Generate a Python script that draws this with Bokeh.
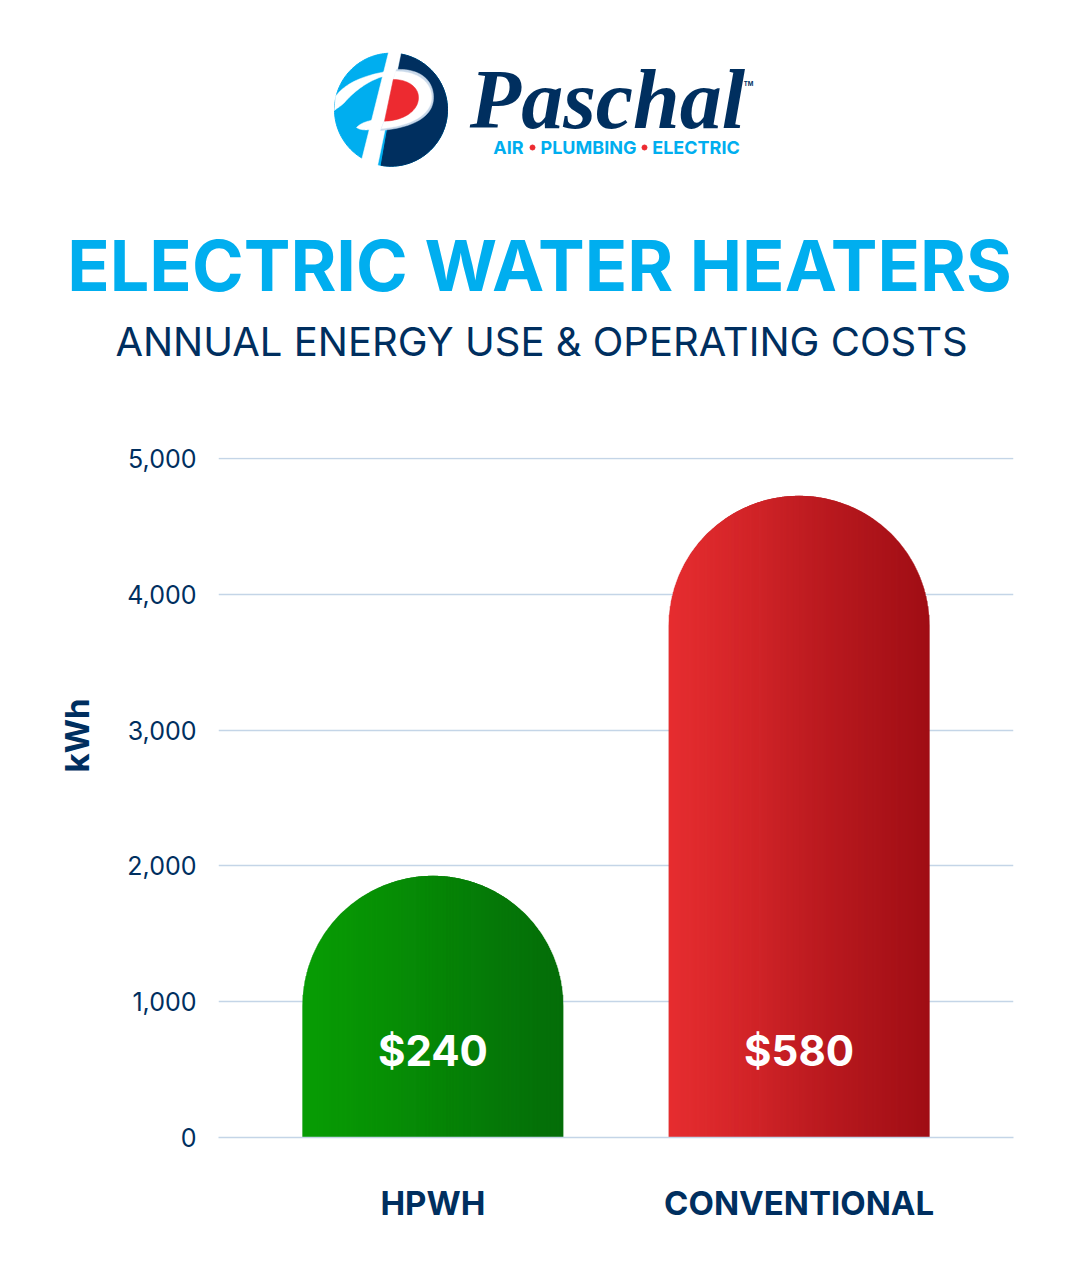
import numpy as np
from bokeh.plotting import figure
from bokeh.layouts import column, row
from bokeh.core.properties import value
from bokeh.models import FactorRange, Range1d, FixedTicker, NumeralTickFormatter, ColumnDataSource
from bokeh.embed import file_html
from bokeh.resources import INLINE

# ---- chart data ----
categories = ["HPWH", "CONVENTIONAL"]
kwh_values = [1927, 4725]
cost_labels = ["$240", "$580"]
y_ticks = [0, 1000, 2000, 3000, 4000, 5000]
title_text = "ELECTRIC WATER HEATERS"
subtitle_text = "ANNUAL ENERGY USE & OPERATING COSTS"
axis_title = "kWh"

# ---- styles ----
NAVY = "#002F5F"
CYAN = "#00AEEF"
RED = "#ED2A30"
GRID = "#C4D5E7"
FONT = "Inter"
bar_ends = [((10, 165, 5), (5, 105, 10)), ((238, 50, 52), (150, 10, 18))]

W = 1072
TOP_H = 408
CHART_H = 859
SIDE_W = 116
BORDER_L, BORDER_R, BORDER_T, BORDER_B = 218 - SIDE_W, 59, 49, 130
frame_h = CHART_H - BORDER_T - BORDER_B
FACTOR_PX = 366.0
BAR_PX = 260.5
bar_w = BAR_PX / FACTOR_PX
Y_END = 5007

# ---- header figure: axes in page pixels ----
top = figure(width=W, height=TOP_H, x_range=Range1d(0, W), y_range=Range1d(TOP_H, 0),
             output_backend="svg", toolbar_location=None, min_border=0,
             x_axis_type=None, y_axis_type=None, outline_line_color=None)
top.frame_align = False
top.grid.visible = False


def bez(p0, p1, p2, p3, n=30):
    t = np.linspace(0, 1, n)[:, None]
    a, b, c, d = map(np.array, (p0, p1, p2, p3))
    return (1 - t) ** 3 * a + 3 * (1 - t) ** 2 * t * b + 3 * (1 - t) * t ** 2 * c + t ** 3 * d


def shape(color, *segs):
    pts = np.vstack(segs)
    top.patch(pts[:, 0], pts[:, 1], fill_color=color, line_color=color, line_width=0.5)


cx, cy, r = 390.5, 109.2, 56.5
th = np.linspace(0, 2 * np.pi, 200)
top.patch(cx + r * np.cos(th), cy + r * np.sin(th), fill_color=CYAN, line_color=CYAN)
th2 = np.linspace(np.radians(-80), np.radians(100), 120)
nv = np.column_stack([cx + r * np.cos(th2), cy + r * np.sin(th2)])
top.patch(nv[:, 0], nv[:, 1], fill_color=NAVY, line_color=NAVY)
# white slanted stem
shape("white", np.array([[388.5, 50], [401, 50], [376.5, 168], [361, 160]]))
# white flourish upper left
shape("white",
      bez((335, 96), (345, 82), (365, 74), (392, 70)),
      bez((392, 70), (392, 72), (388, 74), (386, 75)),
      bez((386, 75), (365, 80), (350, 95), (344, 102)),
      bez((344, 102), (340, 106), (336, 108), (334, 110)))
# lower-left flourish
shape("white",
      bez((356, 127), (362, 121), (370, 120), (380, 118)),
      bez((380, 118), (378, 124), (376, 128), (375, 128)),
      bez((375, 128), (368, 130), (360, 130), (356, 127)))
# bowl of the P with pale edge
shape("#C9D9EA",
      bez((396, 69), (420, 68), (433, 80), (433, 97)),
      bez((433, 97), (433, 115), (415, 127), (380, 130)),
      np.array([[384, 120], [393, 79]]))
shape("white",
      bez((395, 71), (418, 71), (431, 82), (431, 97)),
      bez((431, 97), (431, 113), (413, 125), (381, 128)),
      np.array([[384, 120], [393, 79]]))
# red counter
shape(RED,
      np.array([[384, 120.7], [392.8, 79]]),
      bez((392.8, 79), (408, 79), (418, 87), (418, 97)),
      bez((418, 97), (418, 110), (404, 120), (384, 120.7)))

# wordmark
top.text([607], [99], ["Paschal"], text_font=value("Liberation Serif"), text_font_style="bold italic",
         text_font_size="84px", text_color=NAVY, text_align="center", text_baseline="middle")
top.text([748], [83], ["TM"], text_font=value(FONT), text_font_style="bold", text_font_size="6px",
         text_color=NAVY, text_align="center", text_baseline="middle")
top.text([508, 588, 695.5], [146.5, 146.5, 146.5], ["AIR", "PLUMBING", "ELECTRIC"], text_font=value(FONT),
         text_font_style="bold", text_font_size="18px", text_color=CYAN,
         text_align="center", text_baseline="middle")
top.scatter([532, 644], [147, 147], size=5, fill_color=RED, line_color=RED)

# headings
top.text([539], [265], [title_text], text_font=value(FONT), text_font_style="bold", text_font_size="70px",
         text_color=CYAN, text_align="center", text_baseline="middle")
top.text([541], [341], [subtitle_text], text_font=value(FONT), text_font_size="40px",
         text_color=NAVY, text_align="center", text_baseline="middle")

# ---- strip left of the chart, holding the rotated axis title (page pixels) ----
side = figure(width=SIDE_W, height=CHART_H, x_range=Range1d(0, SIDE_W),
              y_range=Range1d(TOP_H + CHART_H, TOP_H), output_backend="svg", toolbar_location=None,
              min_border=0, x_axis_type=None, y_axis_type=None, outline_line_color=None)
side.frame_align = False
side.grid.visible = False
side.text([76], [735], [axis_title], angle=np.pi / 2, text_font=value(FONT), text_font_style="bold",
          text_font_size="33px", text_color=NAVY, text_align="center", text_baseline="middle")

# ---- chart figure ----
p = figure(width=W - SIDE_W, height=CHART_H, x_range=FactorRange(factors=categories, range_padding=0.0855),
           y_range=Range1d(0, Y_END), output_backend="svg", toolbar_location=None,
           min_border_left=BORDER_L, min_border_right=BORDER_R,
           min_border_top=BORDER_T, min_border_bottom=BORDER_B, outline_line_color=None)
p.frame_align = False
p.xgrid.visible = False
p.ygrid.grid_line_color = GRID
p.ygrid.grid_line_width = 1.5
p.yaxis.ticker = FixedTicker(ticks=y_ticks)
p.yaxis.formatter = NumeralTickFormatter(format="0,0")
p.yaxis.axis_line_color = None
p.yaxis.major_tick_line_color = None
p.yaxis.major_tick_out = 0
p.yaxis.minor_tick_line_color = None
p.yaxis.major_label_standoff = 22
p.yaxis.major_label_text_font = FONT
p.yaxis.major_label_text_font_size = "25px"
p.yaxis.major_label_text_color = NAVY
p.xaxis.axis_line_color = GRID
p.xaxis.axis_line_width = 1.5
p.xaxis.major_tick_line_color = None
p.xaxis.major_tick_out = 0
p.xaxis.minor_tick_line_color = None
p.xaxis.major_label_standoff = 45
p.xaxis.major_label_text_font = FONT
p.xaxis.major_label_text_font_style = "bold"
p.xaxis.major_label_text_font_size = "33px"
p.xaxis.major_label_text_color = NAVY

# base bars with the value, arch-topped
mid = ["#%02x%02x%02x" % tuple((np.array(a) + np.array(b)) // 2) for a, b in bar_ends]
p.vbar(x=categories, top=kwh_values, width=bar_w, fill_color=mid, line_color=None,
       border_radius=(130, 130, 0, 0))

# horizontal gradient: one 1 px column per step, following the arch of the same bar
units_per_px = Y_END / frame_h
n = int(BAR_PX)
xs, tops, cols = [], [], []
for i, (val, (c0, c1)) in enumerate(zip(kwh_values, bar_ends)):
    centre = i + 0.5
    for k in range(n):
        u = (k + 0.5) / n
        off = 2 * u - 1
        drop_px = (BAR_PX / 2) * (1 - np.sqrt(max(0.0, 1 - off ** 2)))
        xs.append(centre + (u - 0.5) * bar_w)
        tops.append(val - drop_px * units_per_px)
        c = (1 - u) * np.array(c0) + u * np.array(c1)
        cols.append("#%02x%02x%02x" % tuple(int(v) for v in c))
strips = ColumnDataSource(dict(x=xs, top=tops, color=cols))
p.vbar(x="x", top="top", width=bar_w / n, bottom=0, fill_color="color", line_color=None, source=strips)

# cost labels inside the bars
p.text(x=categories, y=[638, 638], text=cost_labels, text_font=value(FONT), text_font_style="bold",
       text_font_size="42px", text_color="white", text_align="center", text_baseline="middle")

layout = column(top, row(side, p, spacing=0), spacing=0)
open("out.html", "w").write(file_html(layout, INLINE))
